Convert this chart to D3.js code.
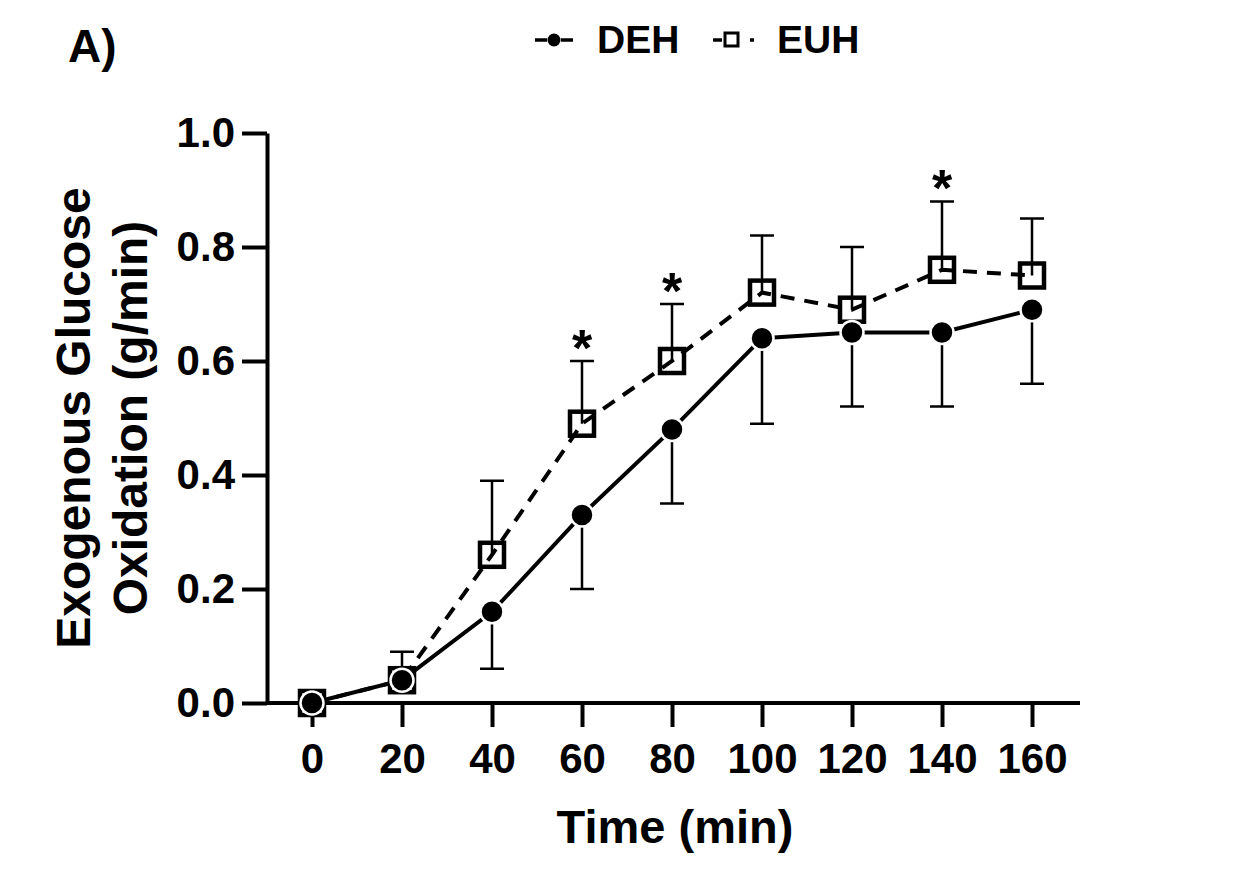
<!DOCTYPE html>
<html lang="en">
<head>
<meta charset="utf-8">
<title>Exogenous Glucose Oxidation</title>
<script src="https://d3js.org/d3.v7.min.js"></script>
<style>
  body { margin: 0; background: #fff; }
  svg text { font-family: "Liberation Sans", Arial, sans-serif; font-weight: bold; fill: #000; }
  .axis path, .axis line { stroke: #000; stroke-width: 4px; }
  .axis text { font-size: 42px; }
  .err { stroke: #000; stroke-width: 2.5px; fill: none; }
</style>
</head>
<body>
<svg width="1244" height="878"></svg>
<script>
// data
var times = [0, 20, 40, 60, 80, 100, 120, 140, 160];
var dehMean = [0, 0.04, 0.16, 0.33, 0.48, 0.64, 0.65, 0.65, 0.69];
var dehSd   = [0, 0, 0.10, 0.13, 0.13, 0.15, 0.13, 0.13, 0.13];
var euhMean = [0, 0.04, 0.26, 0.49, 0.60, 0.72, 0.69, 0.76, 0.75];
var euhSd   = [0, 0.05, 0.13, 0.11, 0.10, 0.10, 0.11, 0.12, 0.10];
var sigTimes = [60, 80, 140];
var yTicks = [0, 0.2, 0.4, 0.6, 0.8, 1.0];

var svg = d3.select("svg");

var x = d3.scaleLinear().domain([0, 160]).range([312, 1032]);
var y = d3.scaleLinear().domain([0, 1]).range([703, 133]);

var deh = times.map((t, i) => ({t: t, m: dehMean[i], sd: dehSd[i]}));
var euh = times.map((t, i) => ({t: t, m: euhMean[i], sd: euhSd[i]}));

// axes
svg.append("g")
    .attr("class", "axis")
    .attr("transform", "translate(267,0)")
    .call(d3.axisLeft(y).tickValues(yTicks).tickFormat(d3.format(".1f"))
      .tickSize(25).tickSizeOuter(0).tickPadding(7));

var xa = svg.append("g")
    .attr("class", "axis")
    .attr("transform", "translate(0,703)")
    .call(d3.axisBottom(x).tickValues(times).tickSize(24).tickSizeOuter(0).tickPadding(16));
xa.select(".domain").remove();
xa.append("line").attr("x1", 267).attr("x2", 1080).attr("y1", 0).attr("y2", 0);

// axis titles
svg.append("text")
    .attr("x", 675).attr("y", 843)
    .attr("text-anchor", "middle")
    .style("font-size", "47px")
    .text("Time (min)");

svg.append("text")
    .attr("transform", "translate(90,418) rotate(-90)")
    .attr("text-anchor", "middle")
    .style("font-size", "48px")
    .text("Exogenous Glucose");
svg.append("text")
    .attr("transform", "translate(147,418) rotate(-90)")
    .attr("text-anchor", "middle")
    .style("font-size", "48px")
    .text("Oxidation (g/min)");

svg.append("text")
    .attr("x", 68).attr("y", 62)
    .style("font-size", "46px")
    .text("A)");

var line = d3.line().x(d => x(d.t)).y(d => y(d.m));
var cap = 12;

// EUH: upper error bars, dashed line, open squares
var eu = svg.append("g");
eu.selectAll(".eb").data(euh.filter(d => d.sd > 0)).join("path")
    .attr("class", "err")
    .attr("d", d => `M${x(d.t)},${y(d.m)}V${y(d.m + d.sd)}M${x(d.t) - cap},${y(d.m + d.sd)}H${x(d.t) + cap}`);
eu.append("path").datum(euh)
    .attr("fill", "none").attr("stroke", "#000").attr("stroke-width", 4)
    .attr("stroke-dasharray", "14,10")
    .attr("d", line);
eu.selectAll("rect").data(euh).join("rect")
    .attr("x", d => x(d.t) - 12).attr("y", d => y(d.m) - 12)
    .attr("width", 24).attr("height", 24)
    .attr("fill", "none").attr("stroke", "#000").attr("stroke-width", 4.5);

// DEH: lower error bars, solid line, filled circles
var de = svg.append("g");
de.selectAll(".eb").data(deh.filter(d => d.sd > 0)).join("path")
    .attr("class", "err")
    .attr("d", d => `M${x(d.t)},${y(d.m)}V${y(d.m - d.sd)}M${x(d.t) - cap},${y(d.m - d.sd)}H${x(d.t) + cap}`);
de.append("path").datum(deh)
    .attr("fill", "none").attr("stroke", "#000").attr("stroke-width", 4)
    .attr("d", line);
de.selectAll("circle").data(deh).join("circle")
    .attr("cx", d => x(d.t)).attr("cy", d => y(d.m))
    .attr("r", 11.5)
    .attr("fill", "#000").attr("stroke", "#fff").attr("stroke-width", 2.5);

// significance marks
svg.selectAll(".sig").data(euh.filter(d => sigTimes.includes(d.t))).join("text")
    .attr("x", d => x(d.t)).attr("y", d => y(d.m + d.sd) + 5)
    .attr("text-anchor", "middle")
    .style("font-size", "52px")
    .text("*");

// legend
var lg = svg.append("g");
lg.append("path").attr("d", "M535,40H547M561,40H573")
    .attr("stroke", "#000").attr("stroke-width", 3.5);
lg.append("circle").attr("cx", 554).attr("cy", 40).attr("r", 6.5).attr("fill", "#000");
lg.append("text").attr("x", 597).attr("y", 53).style("font-size", "39px").text("DEH");

lg.append("path").attr("d", "M713,40H722M750,40H754")
    .attr("stroke", "#000").attr("stroke-width", 3.5);
lg.append("rect").attr("x", 725).attr("y", 33).attr("width", 13).attr("height", 13)
    .attr("fill", "none").attr("stroke", "#000").attr("stroke-width", 3);
lg.append("text").attr("x", 777).attr("y", 53).style("font-size", "39px").text("EUH");
</script>
</body>
</html>
